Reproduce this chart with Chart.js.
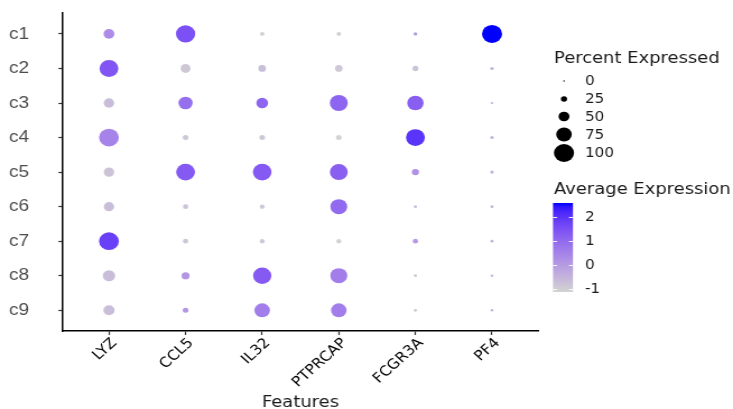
<!DOCTYPE html>
<html>
<head>
<meta charset="utf-8">
<script src="https://cdn.jsdelivr.net/npm/chart.js@4.4.1/dist/chart.umd.min.js"></script>
<style>
  html, body { margin: 0; padding: 0; background: #ffffff; overflow: hidden; }
  #wrap { width: 654px; height: 409px; transform: scaleX(1.1208); transform-origin: 0 0; }
  canvas { display: block; }
</style>
</head>
<body>
<div id="wrap"><canvas id="dotplot" width="654" height="409"></canvas></div>
<script>
// Features (x) and clusters (y)
const features = ['LYZ', 'CCL5', 'IL32', 'PTPRCAP', 'FCGR3A', 'PF4'];
const clusters = ['c1', 'c2', 'c3', 'c4', 'c5', 'c6', 'c7', 'c8', 'c9'];

// Percent of cells expressing each feature, clusters c1..c9
const pctLYZ     = [50, 93, 48, 98, 48, 47, 98, 58, 52];
const pctCCL5    = [95, 45, 68, 22, 93, 20, 20, 35, 22];
const pctIL32    = [15, 32, 55, 22, 92, 18, 18, 90, 75];
const pctPTPRCAP = [15, 32, 88, 22, 88, 82, 18, 83, 75];
const pctFCGR3A  = [12, 24, 80, 93, 30, 8, 20, 8, 8];
const pctPF4     = [100, 10, 5, 10, 10, 8, 8, 6, 6];

// Scaled average expression, clusters c1..c9
const avgLYZ     = [0.3, 1.4, -0.7, 0.5, -0.8, -0.7, 1.8, -0.7, -0.7];
const avgCCL5    = [1.5, -0.9, 0.9, -0.9, 1.3, -0.8, -0.9, 0.1, 0.1];
const avgIL32    = [-1.0, -0.7, 1.1, -0.9, 1.3, -0.9, -0.9, 1.3, 0.6];
const avgPTPRCAP = [-1.0, -0.9, 1.1, -1.12, 1.2, 1.0, -1.1, 0.6, 0.6];
const avgFCGR3A  = [0.0, -0.8, 1.2, 2.0, 0.2, -0.6, 0.0, -0.8, -0.8];
const avgPF4     = [2.58, -0.45, -0.5, -0.45, -0.45, -0.5, -0.5, -0.55, -0.5];

// Legend breaks
const sizeBreaks = [0, 25, 50, 75, 100];
const colorBreaks = [-1, 0, 1, 2];

const pctByFeature = [pctLYZ, pctCCL5, pctIL32, pctPTPRCAP, pctFCGR3A, pctPF4];
const avgByFeature = [avgLYZ, avgCCL5, avgIL32, avgPTPRCAP, avgFCGR3A, avgPF4];

// ---- colour scale: lightgrey -> blue, interpolated in CIE Lab ----
function toLin(c) { c /= 255; return c <= 0.04045 ? c / 12.92 : Math.pow((c + 0.055) / 1.055, 2.4); }
function fromLin(c) {
  c = c <= 0.0031308 ? 12.92 * c : 1.055 * Math.pow(c, 1 / 2.4) - 0.055;
  return Math.round(Math.min(1, Math.max(0, c)) * 255);
}
function rgbToLab(rgb) {
  const R = toLin(rgb[0]), G = toLin(rgb[1]), B = toLin(rgb[2]);
  const X = (0.4124 * R + 0.3576 * G + 0.1805 * B) / 0.95047;
  const Y = (0.2126 * R + 0.7152 * G + 0.0722 * B);
  const Z = (0.0193 * R + 0.1192 * G + 0.9505 * B) / 1.08883;
  const f = t => t > 0.008856 ? Math.cbrt(t) : 7.787 * t + 16 / 116;
  const fx = f(X), fy = f(Y), fz = f(Z);
  return [116 * fy - 16, 500 * (fx - fy), 200 * (fy - fz)];
}
function labToRgb(lab) {
  const fy = (lab[0] + 16) / 116, fx = fy + lab[1] / 500, fz = fy - lab[2] / 200;
  const inv = t => t * t * t > 0.008856 ? t * t * t : (t - 16 / 116) / 7.787;
  const X = inv(fx) * 0.95047, Y = inv(fy), Z = inv(fz) * 1.08883;
  const R = 3.2406 * X - 1.5372 * Y - 0.4986 * Z;
  const G = -0.9689 * X + 1.8758 * Y + 0.0415 * Z;
  const B = 0.0557 * X - 0.2040 * Y + 1.0570 * Z;
  return [fromLin(R), fromLin(G), fromLin(B)];
}
const labLow = rgbToLab([211, 211, 211]);
const labHigh = rgbToLab([0, 0, 255]);
const allAvg = avgByFeature.flat();
const avgMin = Math.min(...allAvg);
const avgMax = Math.max(...allAvg);
function colourFor(v) {
  const t = (v - avgMin) / (avgMax - avgMin);
  const lab = [0, 1, 2].map(k => labLow[k] + (labHigh[k] - labLow[k]) * t);
  const c = labToRgb(lab);
  return `rgb(${c[0]},${c[1]},${c[2]})`;
}

// ---- size scale: radius grows linearly with percent ----
function radiusFor(p) { return 0.7 + p / 100 * 8.3; }

const datasets = features.map((f, fi) => ({
  label: f,
  data: pctByFeature[fi].map((p, ci) => ({ x: fi, y: ci, r: radiusFor(p) })),
  backgroundColor: avgByFeature[fi].map(colourFor),
  borderWidth: 0,
  hoverRadius: 0,
  hoverBorderWidth: 0
}));

// Legends for percent (size) and average expression (colour bar)
const legendPlugin = {
  id: 'dotLegend',
  afterDraw(chart) {
    const ctx = chart.ctx;
    ctx.save();
    ctx.textBaseline = 'middle';
    ctx.textAlign = 'left';
    ctx.fillStyle = '#1a1a1a';
    ctx.font = '16px "DejaVu Sans"';
    ctx.fillText('Percent Expressed', 494.3, 58.5);

    const rowsY = [81, 99, 116.5, 134.5, 153];
    ctx.font = '13.5px "DejaVu Sans"';
    sizeBreaks.forEach((b, i) => {
      ctx.fillStyle = '#000000';
      ctx.beginPath();
      ctx.arc(503.2, rowsY[i], radiusFor(b), 0, Math.PI * 2);
      ctx.fill();
      ctx.fillStyle = '#1a1a1a';
      ctx.fillText(String(b), 522, rowsY[i] + 0.5);
    });

    ctx.font = '16px "DejaVu Sans"';
    ctx.fillText('Average Expression', 494.3, 189.5);

    const barX = 493.4, barW = 17.8, barTop = 203, barBot = 292;
    const grad = ctx.createLinearGradient(0, barBot, 0, barTop);
    for (let k = 0; k <= 20; k++) {
      const v = avgMin + (avgMax - avgMin) * k / 20;
      grad.addColorStop(k / 20, colourFor(v));
    }
    ctx.fillStyle = grad;
    ctx.fillRect(barX, barTop, barW, barBot - barTop);

    const yOf = v => barBot - (v - avgMin) / (avgMax - avgMin) * (barBot - barTop);
    ctx.strokeStyle = 'rgba(255,255,255,0.9)';
    ctx.lineWidth = 1;
    ctx.font = '13.5px "DejaVu Sans"';
    colorBreaks.forEach(b => {
      const y = Math.round(yOf(b)) + 0.5;
      ctx.beginPath();
      ctx.moveTo(barX, y); ctx.lineTo(barX + 3.6, y);
      ctx.moveTo(barX + barW - 3.6, y); ctx.lineTo(barX + barW, y);
      ctx.stroke();
      ctx.fillStyle = '#1a1a1a';
      ctx.fillText(String(b), 522, yOf(b) + 0.5);
    });
    ctx.restore();
  }
};

new Chart(document.getElementById('dotplot'), {
  type: 'bubble',
  data: { datasets },
  options: {
    responsive: false,
    animation: false,
    devicePixelRatio: 1,
    events: [],
    layout: { padding: { left: 8, top: 10, right: 174, bottom: 0 } },
    plugins: { legend: { display: false }, tooltip: { enabled: false } },
    scales: {
      x: {
        type: 'linear',
        min: -0.6,
        max: features.length - 1 + 0.6,
        afterBuildTicks: s => { s.ticks = features.map((_, i) => ({ value: i })); },
        afterFit: s => { s.height = 78; },
        ticks: {
          autoSkip: false,
          minRotation: 45,
          maxRotation: 45,
          padding: 0,
          labelOffset: 5,
          color: '#000000',
          font: { family: 'DejaVu Sans', size: 14 },
          callback: v => features[v]
        },
        grid: { drawOnChartArea: false, drawTicks: true, tickLength: 4, tickColor: '#333333', tickWidth: 1.2 },
        border: { display: true, color: '#000000', width: 1.5 },
        title: {
          display: true,
          text: 'Features',
          color: '#1a1a1a',
          font: { family: 'DejaVu Sans', size: 16 },
          padding: { top: 0, bottom: -3 }
        }
      },
      y: {
        type: 'linear',
        reverse: true,
        min: -0.6,
        max: clusters.length - 1 + 0.6,
        afterBuildTicks: s => { s.ticks = clusters.map((_, i) => ({ value: i })); },
        afterFit: s => { s.width = 48.2; },
        ticks: {
          autoSkip: false,
          crossAlign: 'far',
          color: '#4d4d4d',
          font: { family: 'Liberation Sans', size: 17 },
          callback: v => clusters[v]
        },
        grid: { drawOnChartArea: false, drawTicks: true, tickLength: 4, tickColor: '#333333', tickWidth: 1.2 },
        border: { display: true, color: '#000000', width: 1.5 }
      }
    }
  },
  plugins: [legendPlugin]
});
</script>
</body>
</html>
